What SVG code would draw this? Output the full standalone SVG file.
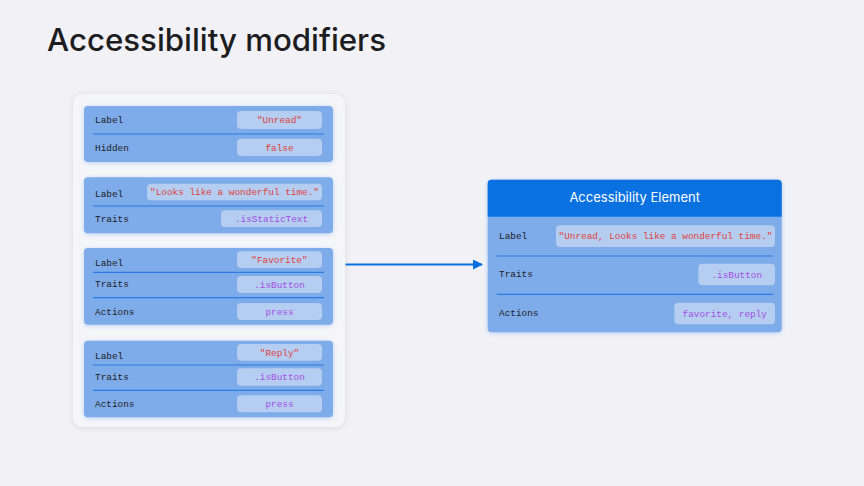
<svg xmlns="http://www.w3.org/2000/svg" width="864" height="486" viewBox="0 0 864 486">
  <defs>
    <filter id="panelShadow" x="-10%" y="-10%" width="120%" height="120%">
      <feDropShadow dx="0" dy="1" stdDeviation="3" flood-color="#000" flood-opacity="0.10"/>
    </filter>
    <filter id="cardGlow" x="-10%" y="-20%" width="120%" height="140%">
      <feDropShadow dx="0" dy="1" stdDeviation="2.5" flood-color="#4a8ae6" flood-opacity="0.35"/>
    </filter>
    <marker id="arrow" viewBox="0 0 10 10" refX="9" refY="5" markerWidth="10" markerHeight="10" markerUnits="userSpaceOnUse" orient="auto">
      <path d="M0,0 L10,5 L0,10 Z" fill="#0a6fe0"/>
    </marker>
    <style>
      .title { font-family: Inter, "Liberation Sans", sans-serif; font-size: 31px; font-weight: 500; fill: #1d1d1f; }
      .panel { fill: #f6f6f9; }
      .card { fill: #7eabe9; }
      .pill { fill: #b4cdf0; }
      .div { stroke: #2a7be2; stroke-width: 1.2; }
      .key { font-family: "Liberation Mono", "DejaVu Sans Mono", monospace; font-size: 9.4px; fill: #1d1d1f; }
      .str { font-family: "Liberation Mono", "DejaVu Sans Mono", monospace; font-size: 9.4px; fill: #e0413c; text-anchor: middle; }
      .sym { font-family: "Liberation Mono", "DejaVu Sans Mono", monospace; font-size: 9.4px; fill: #a64ee6; text-anchor: middle; }
      .head { fill: #0a71e0; }
      .headtxt { font-family: Inter, "Liberation Sans", sans-serif; font-size: 13px; fill: #ffffff; text-anchor: middle; }
    </style>
  </defs>
  <rect width="864" height="486" fill="#f2f2f6"/>
  <text class="title" x="47" y="51" textLength="339" lengthAdjust="spacingAndGlyphs">Accessibility modifiers</text>

  <g id="modifiers-panel">
    <rect class="panel" x="73" y="94" width="272" height="333" rx="10" filter="url(#panelShadow)"/>
  </g>

  <g id="card-unread">
    <rect class="card" x="84" y="106" width="249" height="56" rx="4" filter="url(#cardGlow)"/>
    <text class="key" x="95" y="123.3">Label</text>
    <rect class="pill" x="237" y="111" width="85" height="18" rx="4"/>
    <text class="str" x="279.5" y="123.3">"Unread"</text>
    <line class="div" x1="93" y1="134" x2="324" y2="134"/>
    <text class="key" x="95" y="150.7">Hidden</text>
    <rect class="pill" x="237" y="138.7" width="85" height="17.3" rx="4"/>
    <text class="str" x="279.5" y="150.6">false</text>
  </g>

  <g id="card-text">
    <rect class="card" x="84" y="177.3" width="249" height="56" rx="4" filter="url(#cardGlow)"/>
    <text class="key" x="95" y="196.7">Label</text>
    <rect class="pill" x="147" y="183.7" width="175" height="16.6" rx="4"/>
    <text class="str" x="234.5" y="195.3">"Looks like a wonderful time."</text>
    <line class="div" x1="93" y1="206" x2="324" y2="206"/>
    <text class="key" x="95" y="221.7">Traits</text>
    <rect class="pill" x="221" y="210.3" width="101" height="16.7" rx="4"/>
    <text class="sym" x="271.5" y="221.9">.isStaticText</text>
  </g>

  <g id="card-favorite">
    <rect class="card" x="84" y="248" width="249" height="76.7" rx="4" filter="url(#cardGlow)"/>
    <text class="key" x="95" y="265.7">Label</text>
    <rect class="pill" x="237" y="251.3" width="85" height="16.7" rx="4"/>
    <text class="str" x="279.5" y="263">"Favorite"</text>
    <line class="div" x1="93" y1="272.3" x2="324" y2="272.3"/>
    <text class="key" x="95" y="287.3">Traits</text>
    <rect class="pill" x="237" y="276" width="85" height="17" rx="4"/>
    <text class="sym" x="279.5" y="287.7">.isButton</text>
    <line class="div" x1="93" y1="297.7" x2="324" y2="297.7"/>
    <text class="key" x="95" y="314.7">Actions</text>
    <rect class="pill" x="237" y="303" width="85" height="17" rx="4"/>
    <text class="sym" x="279.5" y="314.7">press</text>
  </g>

  <g id="card-reply">
    <rect class="card" x="84" y="340.7" width="249" height="76.6" rx="4" filter="url(#cardGlow)"/>
    <text class="key" x="95" y="359">Label</text>
    <rect class="pill" x="237" y="344" width="85" height="16.7" rx="4"/>
    <text class="str" x="279.5" y="355.6">"Reply"</text>
    <line class="div" x1="93" y1="365" x2="324" y2="365"/>
    <text class="key" x="95" y="380.3">Traits</text>
    <rect class="pill" x="237" y="368.3" width="85" height="17.4" rx="4"/>
    <text class="sym" x="279.5" y="380.3">.isButton</text>
    <line class="div" x1="93" y1="390.3" x2="324" y2="390.3"/>
    <text class="key" x="95" y="406.7">Actions</text>
    <rect class="pill" x="237" y="395.3" width="85" height="17" rx="4"/>
    <text class="sym" x="279.5" y="407">press</text>
  </g>

  <g id="connectors">
    <line x1="345.5" y1="264.5" x2="482" y2="264.5" stroke="#0a6fe0" stroke-width="2" marker-end="url(#arrow)"/>
  </g>

  <g id="accessibility-element">
    <rect class="card" x="487.7" y="179.7" width="294" height="152.6" rx="4" filter="url(#cardGlow)"/>
    <path class="head" d="M491.7,179.7 H777.7 A4,4 0 0 1 781.7,183.7 V216.7 H487.7 V183.7 A4,4 0 0 1 491.7,179.7 Z"/>
    <text class="headtxt" x="634.7" y="201.7">Accessibility Element</text>
    <text class="key" x="499" y="239">Label</text>
    <rect class="pill" x="556" y="225.3" width="219" height="21.7" rx="4"/>
    <text class="str" x="665.5" y="239.4">"Unread, Looks like a wonderful time."</text>
    <line class="div" x1="496.7" y1="256" x2="773.3" y2="256"/>
    <text class="key" x="499" y="277">Traits</text>
    <rect class="pill" x="698.3" y="263.7" width="76.7" height="21.6" rx="4"/>
    <text class="sym" x="736.7" y="277.7">.isButton</text>
    <line class="div" x1="496.7" y1="294.3" x2="773.3" y2="294.3"/>
    <text class="key" x="499" y="316.3">Actions</text>
    <rect class="pill" x="674.3" y="302.7" width="100.7" height="21.6" rx="4"/>
    <text class="sym" x="724.7" y="316.7">favorite, reply</text>
  </g>
</svg>
